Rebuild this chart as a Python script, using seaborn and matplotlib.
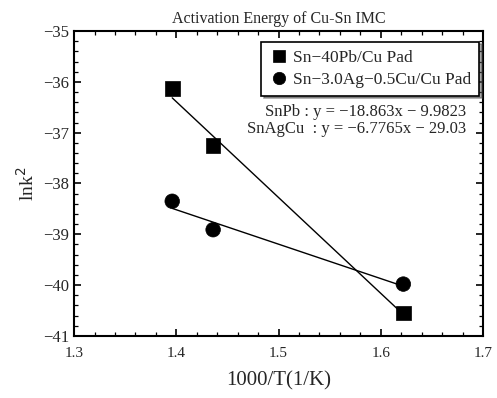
import numpy as np
import pandas as pd
import matplotlib
matplotlib.use("Agg")
import matplotlib.pyplot as plt
import seaborn as sns
from matplotlib.ticker import MultipleLocator

# data
inv_temp = [1.396, 1.436, 1.622]
snpb_lnk = [-36.13, -37.25, -40.55]
snagcu_lnk = [-38.35, -38.91, -39.98]
series_names = ["Sn\u221240Pb/Cu Pad", "Sn\u22123.0Ag\u22120.5Cu/Cu Pad"]
fit_slopes = [-18.863, -6.7765]
fit_intercepts = [-9.9823, -29.03]
fit_labels = ["SnPb : y = \u221218.863x \u2212 9.9823",
              "SnAgCu  : y = \u22126.7765x \u2212 29.03"]

df = pd.DataFrame({
    "x": inv_temp * 2,
    "y": snpb_lnk + snagcu_lnk,
    "series": [series_names[0]] * 3 + [series_names[1]] * 3,
})

sns.set_style("ticks")
plt.rcParams["font.family"] = ["Liberation Serif", "DejaVu Serif"]
plt.rcParams["axes.unicode_minus"] = True

fig = plt.figure(figsize=(4.97, 3.98), dpi=100)
ax = fig.add_axes([0.149, 0.156, 0.823, 0.766])

# fit lines over the range of the data
xs = np.array([min(inv_temp), max(inv_temp)])
for m, b in zip(fit_slopes, fit_intercepts):
    sns.lineplot(x=xs, y=m * xs + b, color="black", lw=1.0, ax=ax, legend=False)

sns.scatterplot(
    data=df, x="x", y="y", style="series", hue="series",
    palette=["black", "black"], markers=["s", "o"],
    s=110, edgecolor="black", linewidth=0.5, ax=ax, zorder=3,
)

ax.set_xlim(1.3, 1.7)
ax.set_ylim(-41, -35)
ax.xaxis.set_major_locator(MultipleLocator(0.1))
ax.xaxis.set_minor_locator(MultipleLocator(0.02))
ax.yaxis.set_major_locator(MultipleLocator(1))
ax.yaxis.set_minor_locator(MultipleLocator(0.2))
ax.tick_params(which="both", direction="in", top=True, right=True,
               color="black")
ax.tick_params(axis="y", labelsize=12)
ax.tick_params(axis="x", labelsize=11, pad=8)
ax.tick_params(which="major", length=5, width=1.2)
ax.tick_params(which="minor", length=3, width=0.9)
for sp in ax.spines.values():
    sp.set_linewidth(1.5)
    sp.set_color("black")

ax.set_xlabel("1000/T(1/K)", fontsize=15, labelpad=8)
ax.set_ylabel("lnk$^2$", fontsize=14, labelpad=4)
ax.set_title("Activation Energy of Cu-Sn IMC", fontsize=11.5, pad=6)

leg = ax.legend(loc="upper right", bbox_to_anchor=(0.99, 0.965),
                fontsize=12.5, frameon=True, fancybox=False, shadow=True,
                handletextpad=0.2, borderpad=0.45, labelspacing=0.35,
                handlelength=1.2, markerscale=0.85, borderaxespad=0)
leg.get_frame().set_edgecolor("black")
leg.get_frame().set_linewidth(1.2)

ax.text(0.958, 0.734, fit_labels[0], transform=ax.transAxes,
        ha="right", va="center", fontsize=12)
ax.text(0.958, 0.679, fit_labels[1], transform=ax.transAxes,
        ha="right", va="center", fontsize=12)

fig.savefig("out.png", dpi=100)
